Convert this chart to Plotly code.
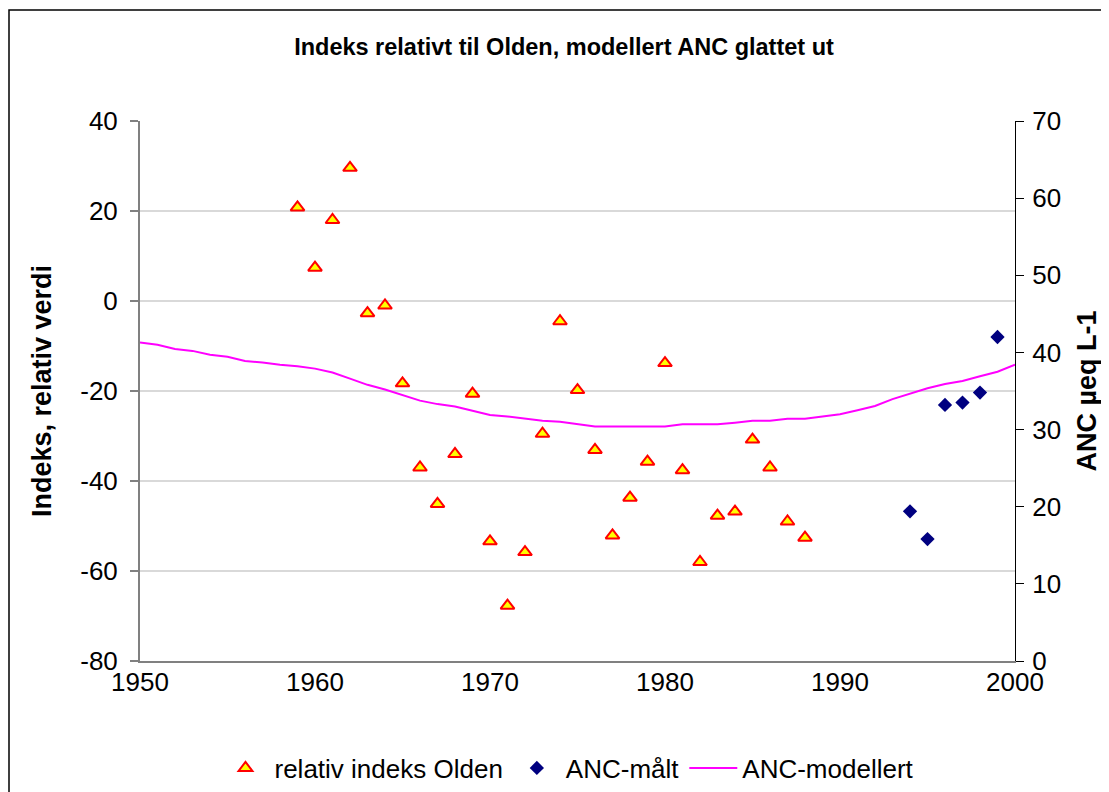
import plotly.graph_objects as go

# ---- data ----
idx_years = list(range(1959, 1989))
idx_values = [20.8, 7.4, 18.0, 29.6, -2.7, -1.0, -18.3, -37.0, -45.1, -34.0,
              -20.6, -53.4, -67.7, -55.8, -29.5, -4.5, -19.8, -33.1, -52.1, -43.7,
              -35.7, -13.8, -37.6, -58.0, -47.7, -46.8, -30.8, -37.0, -49.0, -52.6]

anc_meas_years = [1994, 1995, 1996, 1997, 1998, 1999]
anc_meas_values = [19.4, 15.8, 33.2, 33.5, 34.8, 42.0]

anc_mod_years = list(range(1950, 2001))
anc_mod_values = [41.3, 41.0, 40.45, 40.2, 39.7, 39.45, 38.9, 38.7, 38.4, 38.2,
                  37.9, 37.4, 36.6, 35.8, 35.2, 34.5, 33.75, 33.3, 33.0, 32.45,
                  31.9, 31.7, 31.4, 31.15, 31.0, 30.7, 30.4, 30.4, 30.4, 30.4,
                  30.4, 30.7, 30.7, 30.7, 30.9, 31.15, 31.15, 31.4, 31.4, 31.7,
                  32.0, 32.5, 33.05, 33.95, 34.7, 35.35, 35.9, 36.3, 36.9, 37.5,
                  38.4]

x_ticks = [1950, 1960, 1970, 1980, 1990, 2000]
left_ticks = [-80, -60, -40, -20, 0, 20, 40]
left_tick_labels = ["-80", "-60", "-40", "-20", "0", "20", "40"]
right_ticks = [0, 10, 20, 30, 40, 50, 60, 70]

FONT = "Liberation Sans, Arial, sans-serif"

fig = go.Figure()
fig.add_trace(go.Scatter(
    x=idx_years, y=idx_values, mode="markers", name="relativ indeks Olden",
    marker=dict(symbol="triangle-up", size=12, color="#FFFF00",
                line=dict(color="#FF0000", width=2)),
    yaxis="y"))
fig.add_trace(go.Scatter(
    x=anc_meas_years, y=anc_meas_values, mode="markers", name="ANC-målt",
    marker=dict(symbol="diamond", size=11, color="#000080",
                line=dict(width=0)),
    yaxis="y2"))
fig.add_trace(go.Scatter(
    x=anc_mod_years, y=anc_mod_values, mode="lines", name="ANC-modellert",
    line=dict(color="#FF00FF", width=2),
    yaxis="y2"))

# page body has an 8px margin: figure coords = screen coords - 8
OFF = 8
W, H = 1109 - OFF, 792 - OFF
L, R, T, B = 140 - OFF, 94, 121 - OFF, 131
pw, ph = W - L - R, H - T - B


def px_x(screen_px):
    return (screen_px - OFF - L) / pw


def px_y(screen_px):
    return (H - B - (screen_px - OFF)) / ph


fig.update_layout(
    width=W, height=H,
    margin=dict(l=L, r=R, t=T, b=B, autoexpand=False),
    paper_bgcolor="white", plot_bgcolor="white",
    font=dict(family=FONT, color="black"),
    title=dict(text="<b>Indeks relativt til Olden, modellert ANC glattet ut</b>",
               font=dict(size=23.5, family=FONT), x=(564 - OFF) / W, xanchor="center",
               y=1 - (47 - OFF) / H, yanchor="middle", xref="container", yref="container"),
    showlegend=True,
    legend=dict(orientation="h", x=px_x(568), xanchor="center", y=px_y(768),
                yanchor="middle", font=dict(size=26, family=FONT),
                itemwidth=48, tracegroupgap=0, bgcolor="rgba(0,0,0,0)"),
    xaxis=dict(range=[1950, 2000], tickvals=x_ticks, ticks="",
               showline=True, linecolor="#808080",
               linewidth=2, showgrid=False, zeroline=False, ticklabelstandoff=-3,
               tickfont=dict(size=26, family=FONT)),
    xaxis2=dict(range=[1950, 2000], tickvals=x_ticks, overlaying="x", anchor="y",
                side="bottom", ticks="outside", ticklen=8, tickcolor="#808080",
                tickwidth=1.5, showline=False, showgrid=False, zeroline=False,
                showticklabels=False),
    yaxis=dict(range=[-80, 40], tickvals=left_ticks, ticktext=left_tick_labels,
               ticks="outside", ticklen=8,
               tickcolor="#808080", tickwidth=1.5, showline=True, linecolor="#808080",
               linewidth=2, showgrid=True, gridcolor="#d9d9d9", gridwidth=2,
               zeroline=False, ticklabelstandoff=7, tickfont=dict(size=26, family=FONT),
               title=dict(text="<b>Indeks, relativ verdi</b>",
                          font=dict(size=27, family=FONT), standoff=21)),
    yaxis2=dict(range=[0, 70], tickvals=right_ticks, overlaying="y", side="right",
                anchor="x", ticks="outside", ticklen=8, tickcolor="black",
                tickwidth=1, showline=True, linecolor="black", linewidth=1,
                showgrid=False, zeroline=False, ticklabelstandoff=3,
                tickfont=dict(size=26, family=FONT),
                title=dict(text="<b>ANC µeq L-1</b>",
                           font=dict(size=27, family=FONT), standoff=16)),
    yaxis3=dict(range=[0, 70], tickvals=right_ticks, overlaying="y", side="right",
                anchor="x", ticks="inside", ticklen=8, tickcolor="black",
                tickwidth=1, showline=False, showgrid=False, zeroline=False,
                showticklabels=False),
    shapes=[dict(type="rect", xref="paper", yref="paper",
                 x0=px_x(9), x1=px_x(1104), y0=px_y(820), y1=px_y(10),
                 line=dict(color="black", width=1.5), fillcolor="rgba(0,0,0,0)",
                 layer="below")],
)

fig.write_html("out.html")
